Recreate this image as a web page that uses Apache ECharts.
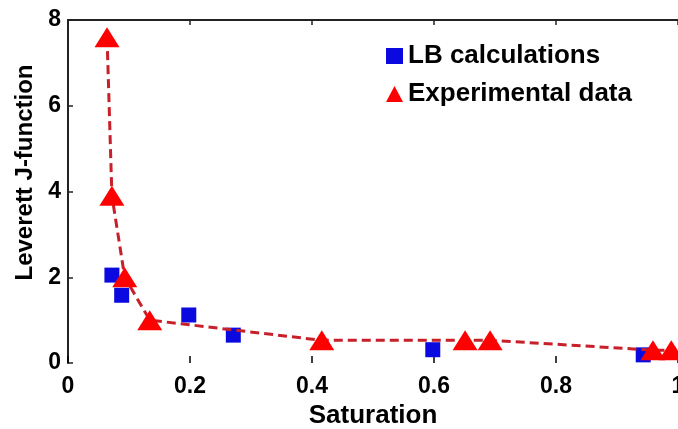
<!DOCTYPE html>
<html>
<head>
<meta charset="utf-8">
<title>Leverett J-function</title>
<script src="https://cdn.jsdelivr.net/npm/echarts@6/dist/echarts.min.js"></script>
<style>
  html, body { margin: 0; padding: 0; background: #fff; }
  #container { width: 678px; height: 429px; }
</style>
</head>
<body>
<div id="container"></div>
<script>
// values
var lbSat = [0.072, 0.088, 0.198, 0.271, 0.598, 0.943];
var lbJ   = [2.05, 1.58, 1.12, 0.65, 0.31, 0.19];

var expSat = [0.064, 0.072, 0.093, 0.134, 0.416, 0.651, 0.692, 0.959, 0.989];
var expJ   = [7.6, 3.9, 2.0, 1.0, 0.53, 0.53, 0.53, 0.3, 0.3];

var xTicks = [0, 0.2, 0.4, 0.6, 0.8, 1];
var yTicks = [0, 2, 4, 6, 8];

function pairs(xs, ys) {
  var out = [];
  for (var i = 0; i < xs.length; i++) out.push([xs[i], ys[i]]);
  return out;
}

var font = '"Liberation Sans", Arial, sans-serif';
var myChart = echarts.init(document.getElementById('container'));

var option = {
  animation: false,
  backgroundColor: '#fff',
  textStyle: { fontFamily: font },
  grid: { left: 68, right: 0, top: 20, bottom: 66, containLabel: false, outerBoundsMode: 'none' },
  legend: {
    orient: 'vertical',
    left: 381,
    top: 38,
    itemWidth: 17,
    itemHeight: 16,
    itemGap: 12,
    textStyle: { fontSize: 26, fontWeight: 'bold', color: '#000', fontFamily: font },
    data: [
      { name: 'LB calculations', icon: 'rect', itemStyle: { color: '#0a0ae0', opacity: 1 } },
      { name: 'Experimental data', icon: 'triangle', itemStyle: { color: '#ff0000', opacity: 1 } }
    ]
  },
  xAxis: [{
    type: 'value',
    min: xTicks[0],
    max: xTicks[xTicks.length - 1],
    interval: 0.2,
    name: 'Saturation',
    nameLocation: 'middle',
    nameGap: 37,
    nameTextStyle: { fontSize: 26, fontWeight: 'bold', color: '#000' },
    axisLine: { show: false },
    axisTick: { show: true, inside: true, length: 7, lineStyle: { color: '#000', width: 1.5 } },
    axisLabel: { fontSize: 23, fontWeight: 'bold', color: '#000', margin: 12,
      formatter: function (v) { return String(+v.toFixed(1)); } },
    splitLine: { show: false }
  }, {
    type: 'value',
    position: 'top',
    min: xTicks[0],
    max: xTicks[xTicks.length - 1],
    interval: 0.2,
    axisLine: { show: true, onZero: false, lineStyle: { color: '#222', width: 2 } },
    axisTick: { show: true, inside: true, length: 5, lineStyle: { color: '#222', width: 1.5 } },
    axisLabel: { show: false },
    splitLine: { show: false }
  }],
  yAxis: {
    type: 'value',
    min: yTicks[0],
    max: yTicks[yTicks.length - 1],
    interval: 2,
    name: 'Leverett J-function',
    nameLocation: 'middle',
    nameGap: 29,
    nameTextStyle: { fontSize: 24, fontWeight: 'bold', color: '#000', padding: [0, 0, 0, 38] },
    axisLine: { show: true, onZero: false, lineStyle: { color: '#222', width: 2 } },
    axisTick: { show: true, inside: true, length: 5, lineStyle: { color: '#222', width: 1.5 } },
    axisLabel: { fontSize: 23, fontWeight: 'bold', color: '#000', margin: 7 },
    splitLine: { show: false }
  },
  series: [{
    name: 'LB calculations',
    type: 'scatter',
    symbol: 'rect',
    symbolSize: 15,
    itemStyle: { color: '#0a0ae0', opacity: 1 },
    data: pairs(lbSat, lbJ),
    z: 2
  }, {
    name: 'Experimental data',
    type: 'line',
    symbol: 'triangle',
    symbolSize: [25, 20],
    showAllSymbol: true,
    clip: false,
    itemStyle: { color: '#ff0000', opacity: 1 },
    lineStyle: { color: '#c8202a', width: 3, type: [9, 5] },
    data: pairs(expSat, expJ),
    z: 3
  }]
};
myChart.setOption(option);
</script>
</body>
</html>
